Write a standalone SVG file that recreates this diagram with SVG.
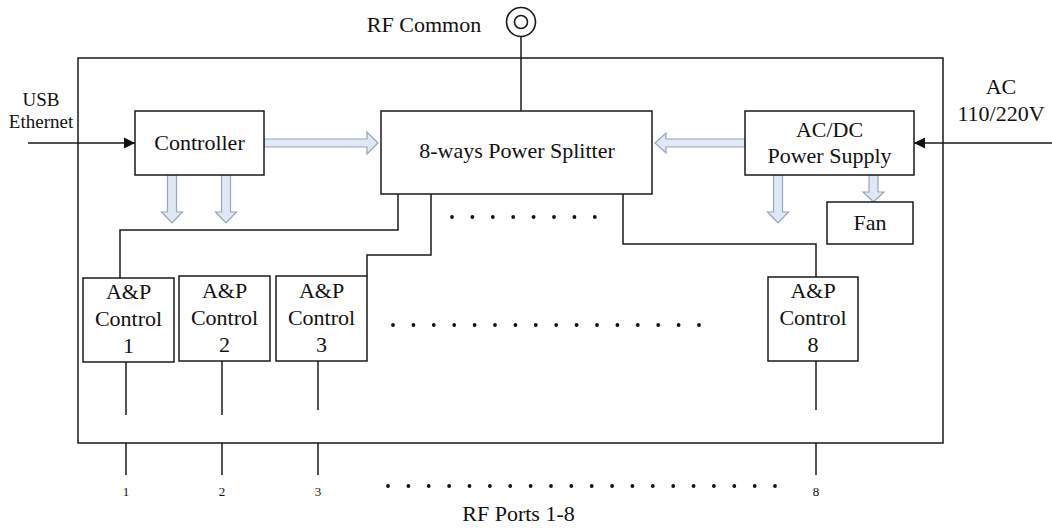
<svg xmlns="http://www.w3.org/2000/svg" width="1052" height="530" viewBox="0 0 1052 530">
<style>
  .box { fill: #fff; stroke: #1a1a1a; stroke-width: 1.5; }
  .ln { fill: none; stroke: #1a1a1a; stroke-width: 1.5; }
  .harrow { fill: #dfe8f4; stroke: #98a6ba; stroke-width: 1.2; }
  .t { font-family: "Liberation Serif", "Times New Roman", serif; fill: #111; text-anchor: middle; }
  .t22 { font-size: 22px; }
  .t19 { font-size: 19px; }
  .t14 { font-size: 13px; }
  .dot { fill: #111; }
</style>
<defs>
  <marker id="ah" markerWidth="12" markerHeight="12" refX="11" refY="6" orient="auto" markerUnits="userSpaceOnUse">
    <path d="M0,0.5 L11,6 L0,11.5 Z" fill="#111"/>
  </marker>
</defs>
<rect width="1052" height="530" fill="#fff"/>

<g id="enclosure">
  <rect class="box" x="78" y="58" width="865" height="385" fill="none"/>
</g>

<g id="connectors">
  <line class="ln" x1="28" y1="143" x2="135" y2="143" marker-end="url(#ah)"/>
  <line class="ln" x1="1052" y1="143" x2="914" y2="143" marker-end="url(#ah)"/>
  <line class="ln" x1="521" y1="37" x2="521" y2="111"/>
  <path class="ln" d="M398,194 V230 H120 V278"/>
  <path class="ln" d="M431,194 V255 H367 V276"/>
  <path class="ln" d="M623,194 V244 H816 V277"/>
  <line class="ln" x1="126" y1="362" x2="126" y2="415"/>
  <line class="ln" x1="222" y1="361" x2="222" y2="415"/>
  <line class="ln" x1="318" y1="361" x2="318" y2="410"/>
  <line class="ln" x1="816" y1="361" x2="816" y2="410"/>
  <line class="ln" x1="126" y1="443" x2="126" y2="475"/>
  <line class="ln" x1="222" y1="443" x2="222" y2="475"/>
  <line class="ln" x1="318" y1="443" x2="318" y2="475"/>
  <line class="ln" x1="816" y1="443" x2="816" y2="475"/>
  <path class="harrow" d="M264,139 H367 V132 L378,143 L367,154 V147 H264 Z"/>
  <path class="harrow" d="M745,139 H666 V133 L655,143 L666,153 V147 H745 Z"/>
  <path class="harrow" d="M167.5,175 V212 H161.5 L172,223 L182.5,212 H176.5 V175 Z"/>
  <path class="harrow" d="M221.5,175 V212 H215.5 L226,223 L236.5,212 H230.5 V175 Z"/>
  <path class="harrow" d="M773.5,175 V212 H767.5 L778,223 L788.5,212 H782.5 V175 Z"/>
  <path class="harrow" d="M869,175 V192 H863 L873.5,202 L884,192 H878 V175 Z"/>
</g>

<g id="rf-common">
  <circle cx="521" cy="22" r="14.5" fill="none" stroke="#1a1a1a" stroke-width="1.6"/>
  <circle cx="521" cy="22" r="6.5" fill="none" stroke="#1a1a1a" stroke-width="1.6"/>
  <text class="t t22" x="424" y="32">RF Common</text>
</g>

<g id="usb-label">
  <text class="t t19" x="41" y="106">USB</text>
  <text class="t t19" x="41" y="128">Ethernet</text>
</g>

<g id="ac-label">
  <text class="t t22" x="1001" y="94">AC</text>
  <text class="t t22" x="1001" y="121">110/220V</text>
</g>

<g id="controller">
  <rect class="box" x="135" y="111" width="129" height="64"/>
  <text class="t t22" x="199.5" y="150">Controller</text>
</g>

<g id="splitter">
  <rect class="box" x="381" y="111" width="271" height="83"/>
  <text class="t t22" x="517" y="158">8-ways Power Splitter</text>
</g>

<g id="psu">
  <rect class="box" x="745" y="111" width="169" height="64"/>
  <text class="t t22" x="829.5" y="137">AC/DC</text>
  <text class="t t22" x="829.5" y="163">Power Supply</text>
</g>

<g id="fan">
  <rect class="box" x="827" y="202" width="86" height="42"/>
  <text class="t t22" x="870" y="230">Fan</text>
</g>

<g id="ap1">
  <rect class="box" x="83" y="278" width="91" height="84"/>
  <text class="t t22" x="128.5" y="299">A&amp;P</text>
  <text class="t t22" x="128.5" y="326">Control</text>
  <text class="t t22" x="128.5" y="353">1</text>
</g>

<g id="ap2">
  <rect class="box" x="179" y="276" width="91" height="85"/>
  <text class="t t22" x="224.5" y="298">A&amp;P</text>
  <text class="t t22" x="224.5" y="325">Control</text>
  <text class="t t22" x="224.5" y="352">2</text>
</g>

<g id="ap3">
  <rect class="box" x="276" y="276" width="91" height="85"/>
  <text class="t t22" x="321.5" y="298">A&amp;P</text>
  <text class="t t22" x="321.5" y="325">Control</text>
  <text class="t t22" x="321.5" y="352">3</text>
</g>

<g id="ap8">
  <rect class="box" x="768" y="277" width="90" height="84"/>
  <text class="t t22" x="813" y="298">A&amp;P</text>
  <text class="t t22" x="813" y="325">Control</text>
  <text class="t t22" x="813" y="352">8</text>
</g>

<g id="dots-splitter">
  <circle class="dot" cx="452" cy="217" r="1.9"/>
  <circle class="dot" cx="472.4" cy="217" r="1.9"/>
  <circle class="dot" cx="492.8" cy="217" r="1.9"/>
  <circle class="dot" cx="513.2" cy="217" r="1.9"/>
  <circle class="dot" cx="533.6" cy="217" r="1.9"/>
  <circle class="dot" cx="554" cy="217" r="1.9"/>
  <circle class="dot" cx="574.4" cy="217" r="1.9"/>
  <circle class="dot" cx="594.8" cy="217" r="1.9"/>
</g>

<g id="dots-controls">
  <circle class="dot" cx="393" cy="325" r="1.9"/>
  <circle class="dot" cx="413.4" cy="325" r="1.9"/>
  <circle class="dot" cx="433.8" cy="325" r="1.9"/>
  <circle class="dot" cx="454.2" cy="325" r="1.9"/>
  <circle class="dot" cx="474.6" cy="325" r="1.9"/>
  <circle class="dot" cx="495" cy="325" r="1.9"/>
  <circle class="dot" cx="515.4" cy="325" r="1.9"/>
  <circle class="dot" cx="535.8" cy="325" r="1.9"/>
  <circle class="dot" cx="556.2" cy="325" r="1.9"/>
  <circle class="dot" cx="576.6" cy="325" r="1.9"/>
  <circle class="dot" cx="597" cy="325" r="1.9"/>
  <circle class="dot" cx="617.4" cy="325" r="1.9"/>
  <circle class="dot" cx="637.8" cy="325" r="1.9"/>
  <circle class="dot" cx="658.2" cy="325" r="1.9"/>
  <circle class="dot" cx="678.6" cy="325" r="1.9"/>
  <circle class="dot" cx="699" cy="325" r="1.9"/>
</g>

<g id="ports">
  <text class="t t14" x="126" y="496">1</text>
  <text class="t t14" x="222" y="496">2</text>
  <text class="t t14" x="318" y="496">3</text>
  <text class="t t14" x="816" y="496">8</text>
  <circle class="dot" cx="388" cy="486" r="1.9"/>
  <circle class="dot" cx="408.4" cy="486" r="1.9"/>
  <circle class="dot" cx="428.7" cy="486" r="1.9"/>
  <circle class="dot" cx="449.1" cy="486" r="1.9"/>
  <circle class="dot" cx="469.5" cy="486" r="1.9"/>
  <circle class="dot" cx="489.9" cy="486" r="1.9"/>
  <circle class="dot" cx="510.2" cy="486" r="1.9"/>
  <circle class="dot" cx="530.6" cy="486" r="1.9"/>
  <circle class="dot" cx="551" cy="486" r="1.9"/>
  <circle class="dot" cx="571.3" cy="486" r="1.9"/>
  <circle class="dot" cx="591.7" cy="486" r="1.9"/>
  <circle class="dot" cx="612.1" cy="486" r="1.9"/>
  <circle class="dot" cx="632.4" cy="486" r="1.9"/>
  <circle class="dot" cx="652.8" cy="486" r="1.9"/>
  <circle class="dot" cx="673.2" cy="486" r="1.9"/>
  <circle class="dot" cx="693.6" cy="486" r="1.9"/>
  <circle class="dot" cx="713.9" cy="486" r="1.9"/>
  <circle class="dot" cx="734.3" cy="486" r="1.9"/>
  <circle class="dot" cx="754.7" cy="486" r="1.9"/>
  <circle class="dot" cx="775" cy="486" r="1.9"/>
  <text class="t t22" x="518.5" y="521">RF Ports 1-8</text>
</g>
</svg>
